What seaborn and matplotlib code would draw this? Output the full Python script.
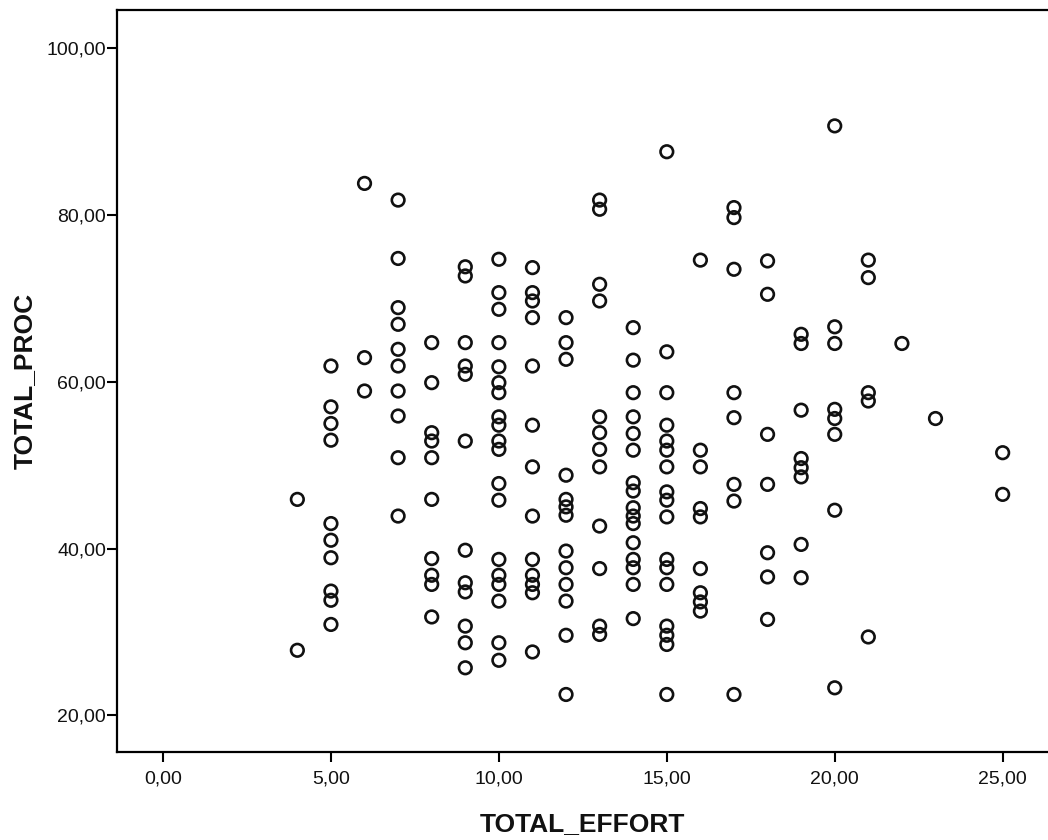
import matplotlib
matplotlib.use("Agg")
import matplotlib.pyplot as plt
import seaborn as sns
import pandas as pd
from matplotlib.ticker import FuncFormatter, FixedLocator

# ---- data (one TOTAL_PROC list per TOTAL_EFFORT value) ----
effort_levels = [4, 5, 6, 7, 8, 9, 10, 11, 12, 13, 14, 15, 16, 17, 18, 19, 20, 21, 22, 23, 25]
proc_e4 = [45.9, 27.8]
proc_e5 = [61.9, 57.0, 55.0, 53.0, 43.0, 41.0, 38.9, 34.9, 33.8, 30.9]
proc_e6 = [83.8, 62.9, 58.9]
proc_e7 = [81.8, 74.8, 68.9, 66.9, 63.9, 61.9, 58.9, 55.9, 50.9, 43.9]
proc_e8 = [64.7, 59.9, 53.9, 52.9, 50.9, 45.9, 38.8, 36.8, 35.7, 31.8]
proc_e9 = [73.8, 72.7, 64.7, 61.9, 60.9, 52.9, 39.8, 35.9, 34.8, 30.7, 28.7, 25.7]
proc_e10 = [74.7, 70.7, 68.7, 64.7, 61.8, 59.9, 58.7, 55.8, 54.8, 52.9, 51.9, 47.8,
            45.8, 38.7, 36.8, 35.7, 33.7, 28.7, 26.6]
proc_e11 = [73.7, 70.7, 69.7, 67.7, 61.9, 54.8, 49.8, 43.9, 38.7, 36.8, 35.7, 34.7, 27.6]
proc_e12 = [67.7, 64.7, 62.7, 48.8, 45.9, 45.0, 44.0, 39.7, 37.7, 35.7, 33.7, 29.6, 22.5]
proc_e13 = [81.8, 80.7, 71.7, 69.7, 55.8, 53.9, 51.9, 49.8, 42.7, 37.6, 30.7, 29.7]
proc_e14 = [66.5, 62.6, 58.7, 55.8, 53.8, 51.8, 47.9, 46.9, 44.9, 43.9, 43.0, 40.7,
            38.7, 37.7, 35.7, 31.6]
proc_e15 = [87.6, 63.6, 58.7, 54.8, 52.9, 51.8, 49.8, 46.8, 45.8, 43.8, 38.7, 37.7,
            35.7, 30.7, 29.6, 28.5, 22.5]
proc_e16 = [74.6, 51.8, 49.8, 44.8, 43.8, 37.6, 34.7, 33.6, 32.5]
proc_e17 = [80.9, 79.7, 73.5, 58.7, 55.7, 47.7, 45.7, 22.5]
proc_e18 = [74.5, 70.5, 53.7, 47.7, 39.5, 36.6, 31.5]
proc_e19 = [65.7, 64.6, 56.6, 50.8, 49.7, 48.6, 40.5, 36.5]
proc_e20 = [90.7, 66.6, 64.6, 56.7, 55.6, 53.7, 44.6, 23.3]
proc_e21 = [74.6, 72.5, 58.7, 57.7, 29.4]
proc_e22 = [64.6]
proc_e23 = [55.6]
proc_e25 = [51.5, 46.5]

proc_lists = [proc_e4, proc_e5, proc_e6, proc_e7, proc_e8, proc_e9, proc_e10, proc_e11,
              proc_e12, proc_e13, proc_e14, proc_e15, proc_e16, proc_e17, proc_e18,
              proc_e19, proc_e20, proc_e21, proc_e22, proc_e23, proc_e25]

x_ticks = [0, 5, 10, 15, 20, 25]
y_ticks = [20, 40, 60, 80, 100]

effort = [e for e, lst in zip(effort_levels, proc_lists) for _ in lst]
proc = [v for lst in proc_lists for v in lst]
df = pd.DataFrame({"TOTAL_EFFORT": effort, "TOTAL_PROC": proc})

# ---- figure ----
sns.set_theme(style="white")
plt.rcParams["font.family"] = ["Liberation Sans", "DejaVu Sans"]

fig = plt.figure(figsize=(10.48, 8.4), dpi=100)
ax = fig.add_axes([117 / 1048, 1 - 752 / 840, 1 - 117 / 1048, (752 - 10) / 840])

sns.scatterplot(data=df, x="TOTAL_EFFORT", y="TOTAL_PROC", ax=ax,
                marker="o", s=82, facecolors="none", edgecolor="#111111",
                linewidth=1.9, legend=False)

ax.set_xlim(-1.37, 26.35)
ax.set_ylim(15.6, 104.6)
ax.xaxis.set_major_locator(FixedLocator(x_ticks))
ax.yaxis.set_major_locator(FixedLocator(y_ticks))
fmt = FuncFormatter(lambda v, p: f"{v:.2f}".replace(".", ","))
ax.xaxis.set_major_formatter(fmt)
ax.yaxis.set_major_formatter(fmt)

ax.tick_params(axis="both", which="major", direction="out", length=7, width=1.5,
               color="black", labelcolor="#111111", labelsize=14)
ax.tick_params(axis="x", pad=6)
ax.tick_params(axis="y", pad=1)
ax.tick_params(left=True, bottom=True)

for side in ["left", "bottom", "top"]:
    ax.spines[side].set_visible(True)
    ax.spines[side].set_color("black")
    ax.spines[side].set_linewidth(1.6)
ax.spines["right"].set_visible(False)

ax.set_xlabel("TOTAL_EFFORT", fontsize=19, fontweight="bold", color="#111111", labelpad=18)
ax.set_ylabel("TOTAL_PROC", fontsize=19, fontweight="bold", color="#111111", labelpad=7)
ax.grid(False)
ax.set_facecolor("white")
fig.patch.set_facecolor("white")

fig.savefig("out.png", dpi=100)
